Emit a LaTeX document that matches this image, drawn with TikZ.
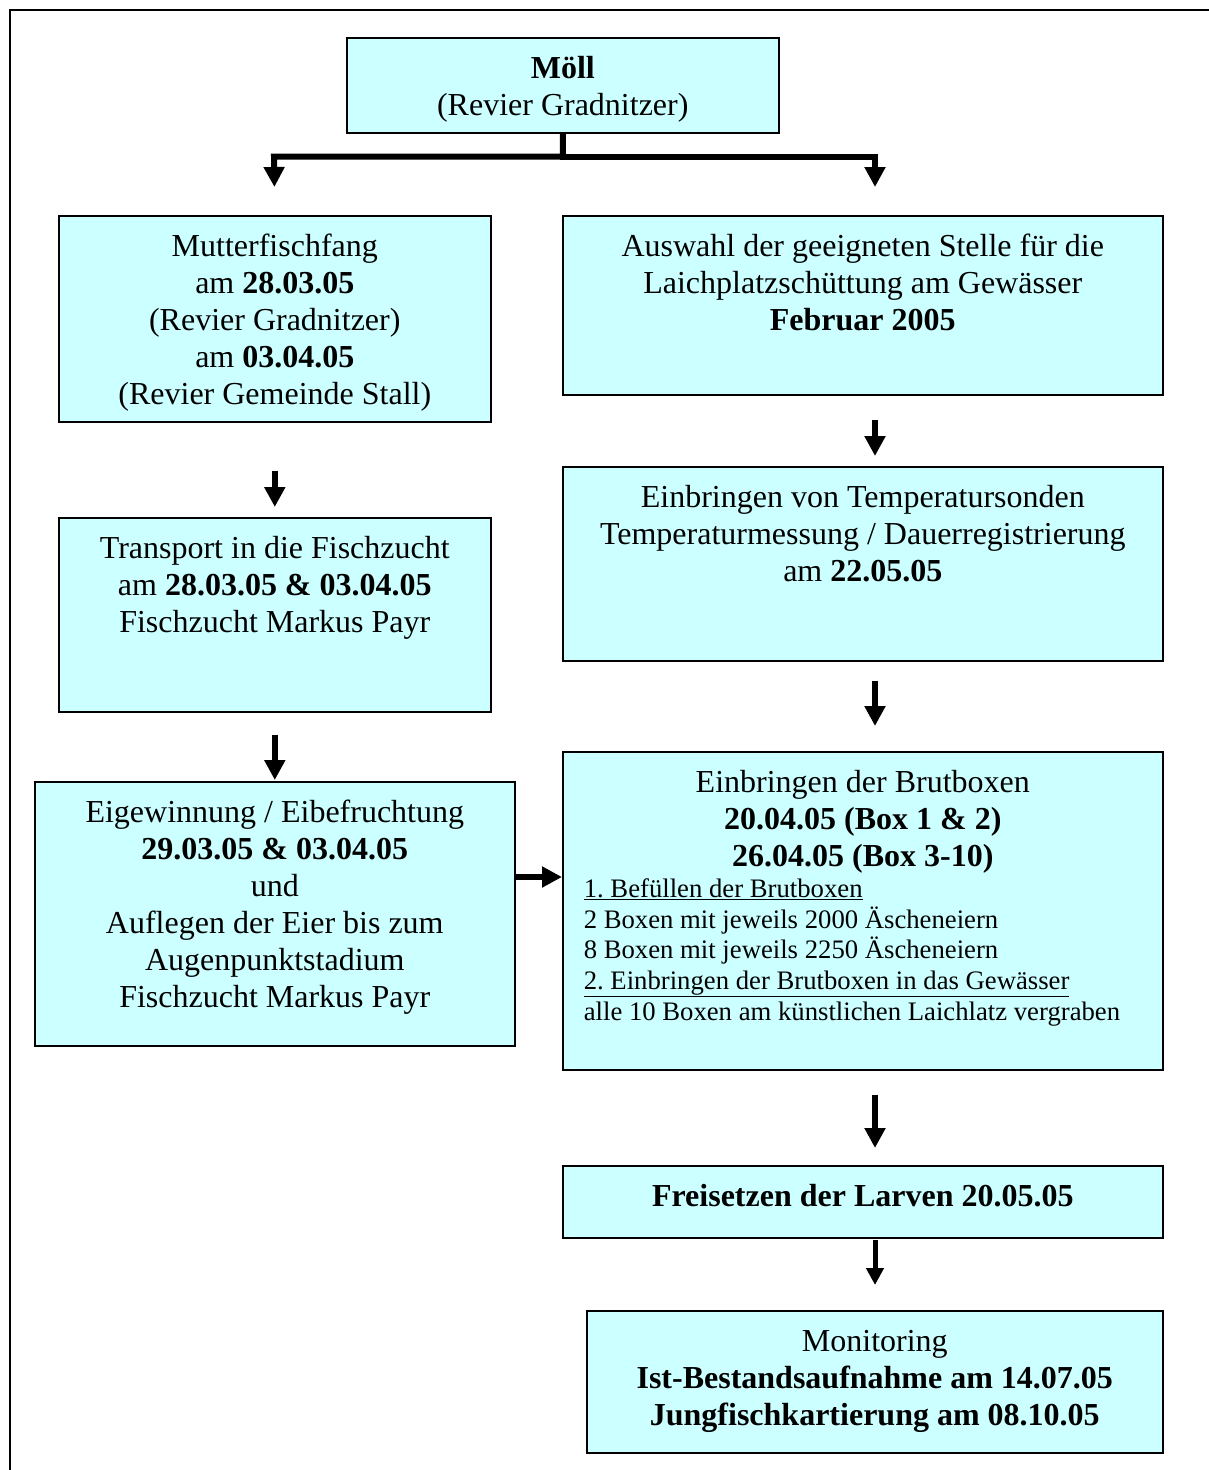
\documentclass[tikz,border=0pt]{standalone}
\usepackage{fontspec}
\setmainfont{Liberation Serif}
\usetikzlibrary{arrows.meta}
\definecolor{boxcyan}{HTML}{CCFFFF}
\newcommand{\boxbody}[3]{\parbox[t][#2pt][t]{#1pt}{\centering\vspace*{15pt}\strut#3}}

\begin{document}
\begin{tikzpicture}[x=1pt,y=-1pt,
	box/.style={draw=black,line width=1.6pt,fill=boxcyan,anchor=north west,inner sep=0pt,font=\fontsize{32}{37}\selectfont},
	arr/.style={line width=6pt,-{Triangle[width=20pt,length=20pt]}},
	arrsmall/.style={line width=5pt,-{Triangle[width=17pt,length=17pt]}}]
\useasboundingbox(0,0)rectangle(1208,1470);
\draw[line width=2pt](10,1490)--(10,10)--(1230,10);
\coordinate(bl)at(274,156.5);
\coordinate(br)at(875,156.5);
\node[box](moell)at(346,37){\boxbody{432}{95}{\textbf{Möll}\\(Revier Gradnitzer)}};
\node[box](mutter)at(58,215){\boxbody{432}{206}{Mutterfischfang\\am \textbf{28.03.05}\\(Revier Gradnitzer)\\am \textbf{03.04.05}\\(Revier Gemeinde Stall)}};
\node[box](auswahl)at(562,215){\boxbody{600}{179}{Auswahl der geeigneten Stelle für die\\Laichplatzschüttung am Gewässer\\\textbf{Februar 2005}}};
\node[box](transport)at(58,517){\boxbody{432}{194}{Transport in die Fischzucht\\am \textbf{28.03.05 \& 03.04.05}\\Fischzucht Markus Payr}};
\node[box](temp)at(562,466){\boxbody{600}{194}{Einbringen von Temperatursonden\\Temperaturmessung / Dauerregistrierung\\am \textbf{22.05.05}}};
\node[box](eigew)at(34,781){\boxbody{480}{264}{Eigewinnung / Eibefruchtung\\\textbf{29.03.05 \& 03.04.05}\\und\\Auflegen der Eier bis zum\\Augenpunktstadium\\Fischzucht Markus Payr}};
\node[box](brut)at(562,751){\boxbody{600}{318}{Einbringen der Brutboxen\\\textbf{20.04.05 (Box 1 \& 2)}\\\textbf{26.04.05 (Box 3-10)}\par
	{\fontsize{26.7}{30.7}\selectfont\raggedright\leftskip=21pt
	\underline{1.\ Befüllen der Brutboxen}\\
	2 Boxen mit jeweils 2000 Äscheneiern\\
	8 Boxen mit jeweils 2250 Äscheneiern\\
	\underline{2.\ Einbringen der Brutboxen in das Gewässer}\\
	alle 10 Boxen am künstlichen Laichlatz vergraben\par}}};
\node[box](frei)at(562,1165){\boxbody{600}{72}{\textbf{Freisetzen der Larven 20.05.05}}};
\node[box](monit)at(586,1310){\boxbody{576}{142}{Monitoring\\\textbf{Ist-Bestandsaufnahme am 14.07.05}\\\textbf{Jungfischkartierung am 08.10.05}}};
% verteilung
\draw[arr,shorten >=28pt](moell.south)|-(bl)--(mutter.north);
\draw[arr,shorten >=28pt](moell.south)|-(br)--(br|-auswahl.north);
% linke spalte
\draw[arr,shorten <=48pt,shorten >=10pt](mutter.south)--(transport.north);
\draw[arr,shorten <=22pt,shorten >=1pt](transport.south)--(eigew.north);
\draw[arr](eigew.east|-0,877)--(brut.west|-0,877);
% rechte spalte
\draw[arr,shorten <=24pt,shorten >=10pt](br|-auswahl.south)--(br|-temp.north);
\draw[arr,shorten <=19pt,shorten >=25pt](br|-temp.south)--(br|-brut.north);
\draw[arr,shorten <=24pt,shorten >=17pt](br|-brut.south)--(br|-frei.north);
\draw[arrsmall,shorten <=1pt,shorten >=25pt](br|-frei.south)--(br|-monit.north);
\end{tikzpicture}
\end{document}
